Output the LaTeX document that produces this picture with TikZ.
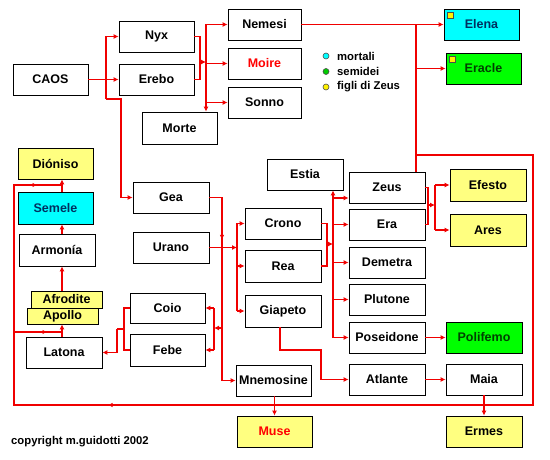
\documentclass[tikz,border=0pt]{standalone}
\usepackage{fontspec}
\setmainfont{Liberation Sans}
\usetikzlibrary{arrows.meta,decorations.markings,calc}
\definecolor{ylw}{HTML}{FFFF80}
\definecolor{cyn}{HTML}{00FFFF}
\definecolor{grn}{HTML}{00FF00}
\definecolor{navyt}{HTML}{003060}
\definecolor{dgreen}{HTML}{004000}
\definecolor{lred}{HTML}{F00000}
\begin{document}
\begin{tikzpicture}[x=1pt,y=-1pt,
  box/.style={draw=black, line width=0.8pt, fill=white, minimum width=75pt, minimum height=31pt, inner sep=0pt, font=\bfseries\fontsize{12.5}{14}\selectfont},
  yb/.style={box, fill=ylw},
  cb/.style={box, fill=cyn, text=navyt},
  gb/.style={box, fill=grn, text=dgreen},
  conn/.style={draw=lred, line width=1.5pt},
  arr/.style={conn, -{Latex[length=5pt,width=5pt]}},
  mk/.style={postaction={decorate}, decoration={markings, mark=at position #1 with {\arrow[lred]{Latex[length=4.5pt,width=4.5pt]}}}},
  leg/.style={circle, draw=black!70, line width=0.6pt, minimum size=6pt, inner sep=0pt},
  legt/.style={anchor=west, inner sep=0pt, font=\bfseries\fontsize{11.3}{13}\selectfont},
  sq/.style={draw=black!70, line width=0.6pt, fill=yellow, minimum size=6pt, inner sep=0pt, anchor=north west}
]
\useasboundingbox[fill=white] (0,0) rectangle (550,460);

% nodes
\node[box] (caos) at (50.5,79.5) {CAOS};
\node[box] (nyx) at (156.5,36.5) {Nyx};
\node[box] (erebo) at (156.5,79.5) {Erebo};
\node[box, minimum height=32pt] (morte) at (179.5,128) {Morte};
\node[box, minimum width=73pt] (nemesi) at (264.5,24.5) {Nemesi};
\node[box, minimum width=73pt, text=red] (moire) at (264.5,63.5) {Moire};
\node[box, minimum width=73pt] (sonno) at (264.5,102.5) {Sonno};
\node[cb] (elena) at (481.5,24.5) {Elena};
\node[gb] (eracle) at (483.5,68.5) {Eracle};
\node[sq] (sqa) at ($(elena.north west)+(3,3)$) {};
\node[sq] (sqb) at ($(eracle.north west)+(3,3)$) {};

\node[yb] (dioniso) at (55.5,163.5) {Dióniso};
\node[cb, minimum height=32pt] (semele) at (55.5,208) {Semele};
\node[box, minimum width=76pt, minimum height=32pt] (armonia) at (57,250) {Armonía};
\node[yb, minimum width=71pt, minimum height=17pt] (afrodite) at (66.5,299.5) {Afrodite};
\node[yb, minimum width=71pt, minimum height=16pt] (apollo) at (62.5,316) {Apollo};
\node[box, minimum width=76pt] (latona) at (64,352.5) {Latona};

\node[box, minimum width=76pt] (gea) at (171,197.5) {Gea};
\node[box, minimum width=76pt] (urano) at (171,247.5) {Urano};
\node[box, minimum height=30pt] (coio) at (167.5,308) {Coio};
\node[box, minimum height=32pt] (febe) at (167.5,350) {Febe};

\node[box, minimum width=76pt] (crono) at (283,223.5) {Crono};
\node[box, minimum width=76pt, minimum height=32pt] (rea) at (283,266) {Rea};
\node[box, minimum width=76pt, minimum height=32pt] (giapeto) at (283,311) {Giapeto};
\node[box] (mnemosine) at (273.5,380.5) {Mnemosine};
\node[yb, text=red] (muse) at (274.5,431.5) {Muse};

\node[box, minimum width=76pt] (estia) at (305,174.5) {Estia};
\node[box, minimum width=76pt] (zeus) at (387,187.5) {Zeus};
\node[box, minimum width=76pt] (era) at (387,224.5) {Era};
\node[box, minimum width=76pt] (demetra) at (387,262.5) {Demetra};
\node[box, minimum width=76pt] (plutone) at (387,299.5) {Plutone};
\node[box, minimum width=76pt] (poseidone) at (387,337.5) {Poseidone};
\node[box, minimum width=76pt] (atlante) at (387,379.5) {Atlante};

\node[yb, minimum width=76pt, minimum height=32pt] (efesto) at (488,185) {Efesto};
\node[yb, minimum width=76pt, minimum height=32pt] (ares) at (488,230) {Ares};
\node[gb, minimum width=76pt] (polifemo) at (484,337.5) {Polifemo};
\node[box, minimum width=76pt] (maia) at (484,379.5) {Maia};
\node[yb, minimum width=76pt] (ermes) at (484,431.5) {Ermes};

% legend
\node[leg, fill=cyn] (l1) at (326,56) {};
\node[leg, fill=grn!80!black] (l2) at (326,71.5) {};
\node[leg, fill=yellow] (l3) at (326,87) {};
\node[legt] (t1) at (337,56) {mortali};
\node[legt] (t2) at (337,71.5) {semidei};
\node[legt] (t3) at (337,87) {figli di Zeus};
\node[legt] (copy) at (11,442) {copyright m.guidotti 2002};

% coordinates
\coordinate (c1) at (106,0);
\coordinate (c2) at (121,99);
\coordinate (b1) at (200,62);
\coordinate (b2) at (206,0);
\coordinate (zx) at (416,155);
\coordinate (zB) at (533,155);
\coordinate (zC) at (533,405);
\coordinate (zD) at (14,405);
\coordinate (zE) at (14,185);
\coordinate (zF) at (14,332);
\coordinate (lx) at (62,0);
\coordinate (g1) at (222,0);
\coordinate (g2) at (237,0);
\coordinate (cf) at (214,328);
\coordinate (lt1) at (124,329);
\coordinate (lt2) at (117,0);
\coordinate (k1) at (327,244);
\coordinate (k2) at (333,0);
\coordinate (zy) at (0,198);
\coordinate (e1) at (428,205);
\coordinate (e2) at (435,0);
\coordinate (a1) at (280,350);
\coordinate (a2) at (321,0);

% CAOS
\draw[arr] (caos.east) -- (erebo.west);
\draw[arr] (caos.east -| c1) |- (nyx.west);
\draw[conn] (caos.east -| c1) -- (c1 |- c2);
\draw[arr] (c1 |- c2) -- (c2) |- (gea.west);

% Nyx / Erebo
\draw[conn] (nyx.east) -- (nyx.east -| b1) -- (erebo.east -| b1) -- (erebo.east);
\draw[arr] (b1) -- (b1 -| b2);
\draw[arr] (nemesi.west -| b2) -- (morte.north -| b2);
\draw[arr] (nemesi.west -| b2) -- (nemesi.west);
\draw[arr] (moire.west -| b2) -- (moire.west);
\draw[arr] (sonno.west -| b2) -- (sonno.west);

% Zeus line
\draw[conn] (zeus.north -| zx) -- (nemesi.east -| zx);
\draw[arr] (nemesi.east) -- (elena.west);
\draw[arr] (eracle.west -| zx) -- (eracle.west);
\draw[conn, postaction={decorate}, decoration={markings,
    mark=at position 792pt with {\arrow[lred]{Latex[length=4.5pt,width=4.5pt]}},
    mark=at position 1129pt with {\arrow[lred]{Latex[length=4.5pt,width=4.5pt]}}}]
  (zx) -- (zB) -- (zC) -- (zD) -- (zE) -- (zE -| lx);
\draw[conn, mk=33pt] (zF) -- (zF -| lx);
\draw[arr] (semele.north -| lx) -- (dioniso.south -| lx);
\draw[arr] (armonia.north -| lx) -- (semele.south -| lx);
\draw[arr] (afrodite.north -| lx) -- (armonia.south -| lx);
\draw[arr] (latona.north -| lx) -- (apollo.south -| lx);
\draw[arr] (muse.north |- mnemosine.south) -- (muse.north);
\draw[arr] (maia.south) -- (ermes.north);

% Gea / Urano
\draw[conn] (gea.east) -- (gea.east -| g1);
\draw[arr, mk=42pt] (gea.east -| g1) |- (mnemosine.west);
\draw[arr] (urano.east) -- (urano.east -| g2);
\draw[conn] (crono.west -| g2) -- (giapeto.west -| g2);
\draw[arr] (crono.west -| g2) -- (crono.west);
\draw[arr] (rea.west -| g2) -- (rea.west);
\draw[arr] (giapeto.west -| g2) -- (giapeto.west);
\draw[arr] (cf -| g1) -- (cf);
\draw[conn] (coio.east -| cf) -- (febe.east -| cf);
\draw[arr] (coio.east -| cf) -- (coio.east);
\draw[arr] (febe.east -| cf) -- (febe.east);

% Coio / Febe -> Latona
\draw[conn] (coio.west) -- (coio.west -| lt1) -- (febe.west -| lt1) -- (febe.west);
\draw[conn] (lt1) -- (lt1 -| lt2);
\draw[arr] (lt1 -| lt2) -- (latona.east -| lt2) -- (latona.east);

% Crono / Rea
\draw[conn] (crono.east) -- (crono.east -| k1) -- (rea.east -| k1) -- (rea.east);
\draw[arr] (k1) -- (k1 -| k2);
\draw[arr] (k2 |- poseidone.west) -- (k2 |- estia.south);
\draw[arr] (k2 |- zy) -- (zeus.west |- zy);
\draw[arr] (era.west -| k2) -- (era.west);
\draw[arr] (demetra.west -| k2) -- (demetra.west);
\draw[arr] (plutone.west -| k2) -- (plutone.west);
\draw[arr] (poseidone.west -| k2) -- (poseidone.west);

% Zeus / Era
\draw[conn] (zeus.east) -- (zeus.east -| e1) -- (era.east -| e1) -- (era.east);
\draw[arr] (e1) -- (e1 -| e2);
\draw[conn] (e2 |- efesto.west) -- (e2 |- ares.west);
\draw[arr] (e2 |- efesto.west) -- (efesto.west);
\draw[arr] (e2 |- ares.west) -- (ares.west);

% Giapeto -> Atlante, others
\draw[arr] (giapeto.south -| a1) -- (a1) -- (a1 -| a2) -- (a2 |- atlante.west) -- (atlante.west);
\draw[arr] (poseidone.east) -- (polifemo.west);
\draw[arr] (atlante.east) -- (maia.west);
\end{tikzpicture}
\end{document}
